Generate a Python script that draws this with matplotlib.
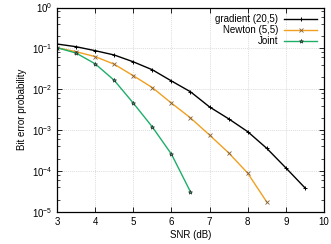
import matplotlib
matplotlib.use("Agg")
import matplotlib.pyplot as plt
from matplotlib.ticker import LogLocator, FixedLocator

plt.rcParams['font.family'] = ['Liberation Sans', 'DejaVu Sans']

snr_grad = [3, 3.5, 4, 4.5, 5, 5.5, 6, 6.5, 7, 7.5, 8, 8.5, 9, 9.5]
ber_grad = [0.128, 0.11, 0.088, 0.069, 0.047, 0.030, 0.016, 0.0087, 0.0037,
            0.0019, 0.00092, 0.00036, 0.00012, 3.9e-5]
snr_newton = [3, 3.5, 4, 4.5, 5, 5.5, 6, 6.5, 7, 7.5, 8, 8.5]
ber_newton = [0.104, 0.083, 0.063, 0.041, 0.0215, 0.011, 0.0046, 0.0020,
              0.00076, 0.00028, 8.9e-5, 1.75e-5]
snr_joint = [3, 3.5, 4, 4.5, 5, 5.5, 6, 6.5]
ber_joint = [0.104, 0.077, 0.042, 0.0166, 0.0046, 0.0012, 0.00026, 3.1e-5]

labels = ['gradient (20,5)', 'Newton (5,5)', 'Joint']
colors = ['#000000', '#f0a020', '#1fae6a']
xticks = [3, 4, 5, 6, 7, 8, 9, 10]

fig = plt.figure(figsize=(3.31, 2.44), dpi=100)
ax = fig.add_axes([57/331, 1 - 212/244, (324-57)/331, (212-7.5)/244])

ax.plot(snr_grad, ber_grad, color=colors[0], lw=1.0, marker='+', ms=3,
        mew=0.7, label=labels[0])
ax.plot(snr_newton, ber_newton, color=colors[1], lw=1.0, marker='x', ms=2.5,
        mew=0.6, mec='#806040', label=labels[1])
ax.plot(snr_joint, ber_joint, color=colors[2], lw=1.0, marker='*', ms=3,
        mew=0.5, mec='#303030', label=labels[2])

ax.set_yscale('log')
ax.set_xlim(3, 10)
ax.set_ylim(1e-5, 1)
ax.xaxis.set_major_locator(FixedLocator(xticks))
ax.yaxis.set_major_locator(LogLocator(base=10, numticks=10))
ax.yaxis.set_minor_locator(LogLocator(base=10, subs=(2, 4, 6, 8), numticks=10))
ax.tick_params(which='both', direction='in', top=True, right=True, labelsize=7)
ax.tick_params(which='major', length=3.5, width=0.6)
ax.tick_params(which='minor', length=2, width=0.5)
ax.grid(True, which='major', color='#d0d0d0', ls=(0, (1.5, 1.5)), lw=0.5)
for s in ax.spines.values():
    s.set_linewidth(0.9)

ax.set_xlabel('SNR (dB)', fontsize=7, labelpad=2)
ax.set_ylabel('Bit error probability', fontsize=7, labelpad=3)

leg = ax.legend(loc='upper right', fontsize=7, frameon=False, markerfirst=False,
                handlelength=3.4, handletextpad=0.6, labelspacing=0.1,
                borderaxespad=0.3)

fig.savefig('out.png', dpi=100)
